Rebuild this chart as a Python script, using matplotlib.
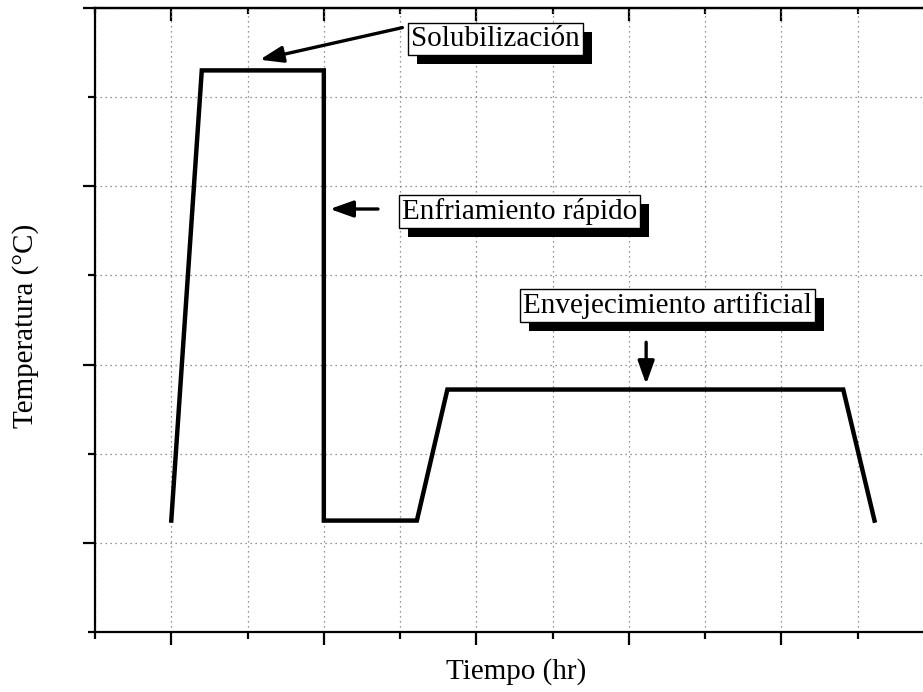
import matplotlib
matplotlib.use('Agg')
import matplotlib.pyplot as plt
import matplotlib.patheffects as pe
from matplotlib.ticker import FixedLocator

plt.rcParams['font.family'] = ['Liberation Serif', 'DejaVu Serif']

# heat treatment cycle (arbitrary units, no tick labels on the axes)
tiempo = [1.0, 1.4, 3.0, 3.0, 4.22, 4.62, 9.81, 10.22]
temperatura = [1.25, 6.3, 6.3, 1.25, 1.25, 2.72, 2.72, 1.25]

# stage labels: text, box centre, arrow tail, arrow tip
etapas = ['Solubilización', 'Enfriamiento rápido', 'Envejecimiento artificial']
texto_xy = [(5.25, 6.65), (5.57, 4.72), (7.51, 3.66)]
flecha_desde = [(4.03, 6.78), (3.71, 4.745), (7.226, 3.25)]
flecha_hasta = [(2.16, 6.42), (3.08, 4.745), (7.226, 2.78)]

fig = plt.figure(figsize=(9.23, 6.92), dpi=100)
ax = fig.add_axes([95/923, 60/692, 839/923, 624/692])

ax.plot(tiempo, temperatura, color='k', lw=3.2, solid_joinstyle='miter', zorder=3)

ax.set_xlim(0, 11)
ax.set_ylim(0, 7)

# major ticks on odd values, minor on even ones
ax.xaxis.set_major_locator(FixedLocator([1, 3, 5, 7, 9, 11]))
ax.xaxis.set_minor_locator(FixedLocator([0, 2, 4, 6, 8, 10]))
ax.yaxis.set_major_locator(FixedLocator([1, 3, 5, 7]))
ax.yaxis.set_minor_locator(FixedLocator([0, 2, 4, 6]))
ax.set_xticklabels([])
ax.set_yticklabels([])
ax.tick_params(which='major', direction='out', length=9, width=1.6)
ax.tick_params(which='minor', direction='out', length=5, width=1.6)
ax.grid(which='both', color='0.45', linestyle=(0, (1, 3)), linewidth=0.9)
ax.set_axisbelow(True)

for s in ax.spines.values():
    s.set_linewidth(1.6)

top = ax.secondary_xaxis('top')
top.xaxis.set_major_locator(FixedLocator([1, 3, 5, 7, 9, 11]))
top.xaxis.set_minor_locator(FixedLocator([0, 2, 4, 6, 8, 10]))
top.set_xticklabels([])
top.tick_params(which='major', direction='in', length=9, width=1.6)
top.tick_params(which='minor', direction='in', length=4.5, width=1.6)
top.spines['top'].set_linewidth(1.6)

ax.set_xlabel('Tiempo (hr)', fontsize=21, va='center')
ax.xaxis.set_label_coords(0.502, -0.064)
ax.set_ylabel('Temperatura (°C)', fontsize=21, va='center')
ax.yaxis.set_label_coords(-0.083, 0.49)

sombra = [pe.SimplePatchShadow(offset=(6.5, -6.5), shadow_rgbFace='k', alpha=1.0), pe.Normal()]
for txt, xy, desde, hasta in zip(etapas, texto_xy, flecha_desde, flecha_hasta):
    t = ax.text(xy[0], xy[1], txt, fontsize=21, ha='center', va='center', zorder=5,
                bbox=dict(boxstyle='square,pad=0.1', fc='white', ec='k', lw=1.0))
    t.get_bbox_patch().set_path_effects(sombra)
    ax.annotate('', xy=hasta, xytext=desde, zorder=4,
                arrowprops=dict(arrowstyle='-|>,head_length=0.7,head_width=0.25',
                                color='k', lw=2.4, mutation_scale=20,
                                shrinkA=0, shrinkB=0))

fig.savefig('out.png', dpi=100)
